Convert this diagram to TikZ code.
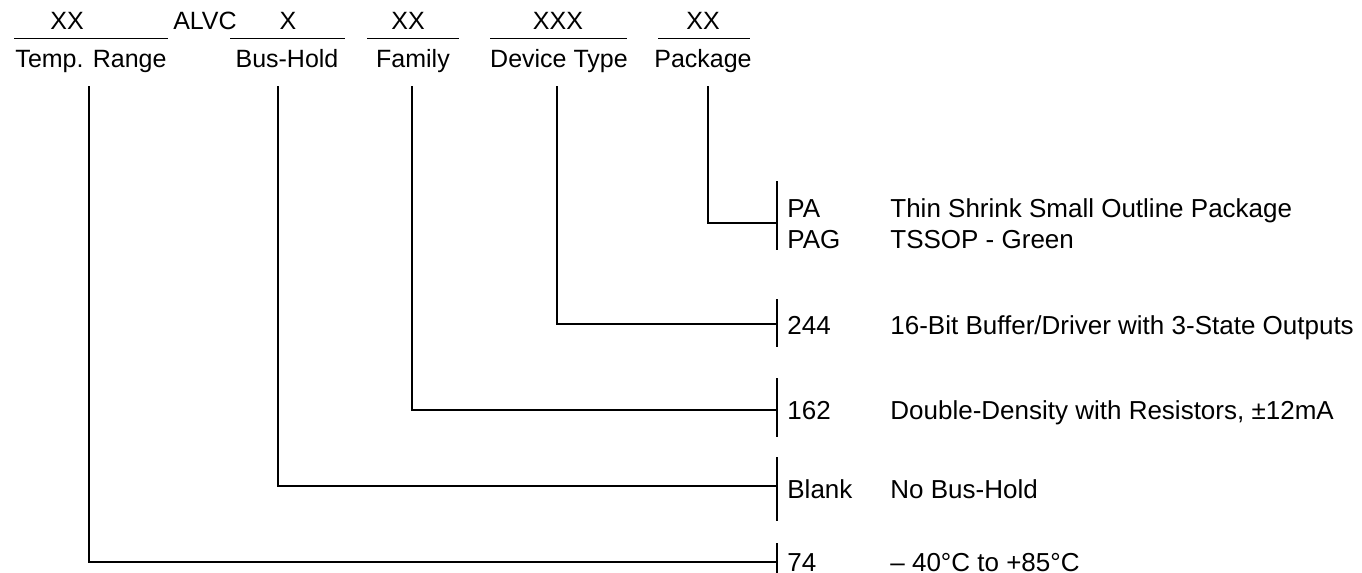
\documentclass[tikz,border=0pt]{standalone}
\usepackage{fontspec}
\setmainfont{Liberation Sans}
\usetikzlibrary{positioning,calc}
\begin{document}
\begin{tikzpicture}[x=0.5pt,y=-0.5pt,
    leadline/.style={line width=1pt},
    underbar/.style={line width=0.75pt},
    hdrtext/.style={inner sep=0pt,anchor=base,font=\fontsize{12.5}{15}\selectfont},
    opttext/.style={inner sep=0pt,anchor=base west,font=\fontsize{13}{15}\selectfont}]
\useasboundingbox (0,0) rectangle (1362,573);

% Ordering code fields
\node [hdrtext] (tempcode) at (67,29) {XX};
\node [hdrtext] (alvc) at (205,29) {ALVC};
\node [hdrtext] (buscode) at (288,29) {X};
\node [hdrtext] (famcode) at (408,29) {XX};
\node [hdrtext] (devcode) at (558,29) {XXX};
\node [hdrtext] (pkgcode) at (703,29) {XX};

% Underlines of the fields
\draw [underbar] (14,38.5) -- (168,38.5);
\draw [underbar] (230,38.5) -- (345,38.5);
\draw [underbar] (367,38.5) -- (459,38.5);
\draw [underbar] (490,38.5) -- (627,38.5);
\draw [underbar] (658,38.5) -- (750,38.5);

% Field names
\node [hdrtext] (templbl) at (91,68) {Temp. Range};
\node [hdrtext] (buslbl) at (287,68) {Bus-Hold};
\node [hdrtext] (famlbl) at (413,68) {Family};
\node [hdrtext] (devlbl) at (559,68) {Device Type};
\node [hdrtext] (pkglbl) at (703,68) {Package};

% Tops of the lead lines
\coordinate (temptop) at (89,86);
\coordinate (bustop) at (278,86);
\coordinate (famtop) at (412,86);
\coordinate (devtop) at (557,86);
\coordinate (pkgtop) at (708,86);

% Option brackets
\coordinate (pkgtick) at (777,223);
\coordinate (devtick) at (777,324);
\coordinate (famtick) at (777,410);
\coordinate (bustick) at (777,486);
\coordinate (temptick) at (777,562);

\draw [leadline] (777,181) -- (777,250);
\draw [leadline] (777,299) -- (777,347);
\draw [leadline] (777,378) -- (777,437);
\draw [leadline] (777,457) -- (777,521);
\draw [leadline] (777,543) -- (777,580);

% Drawing lead lines
\draw [leadline] (pkgtop) |- (pkgtick);
\draw [leadline] (devtop) |- (devtick);
\draw [leadline] (famtop) |- (famtick);
\draw [leadline] (bustop) |- (bustick);
\draw [leadline] (temptop) |- (temptick);

% Package options
\node [opttext] (pa) at (787,217) {PA};
\node [opttext] (pag) at (787,248) {PAG};
\node [opttext] (padesc) at (890,217) {Thin Shrink Small Outline Package};
\node [opttext] (pagdesc) at (890,248) {TSSOP - Green};

% Device type
\node [opttext] (dev244) at (787,334) {244};
\node [opttext] (dev244desc) at (890,334) {16-Bit Buffer/Driver with 3-State Outputs};

% Family
\node [opttext] (fam162) at (787,419) {162};
\node [opttext] (fam162desc) at (890,419) {Double-Density with Resistors, ±12mA};

% Bus-hold
\node [opttext] (blank) at (787,498) {Blank};
\node [opttext] (blankdesc) at (890,498) {No Bus-Hold};

% Temperature range
\node [opttext] (temp74) at (787,571) {74};
\node [opttext] (temp74desc) at (890,571) {– 40°C to +85°C};
\end{tikzpicture}
\end{document}
